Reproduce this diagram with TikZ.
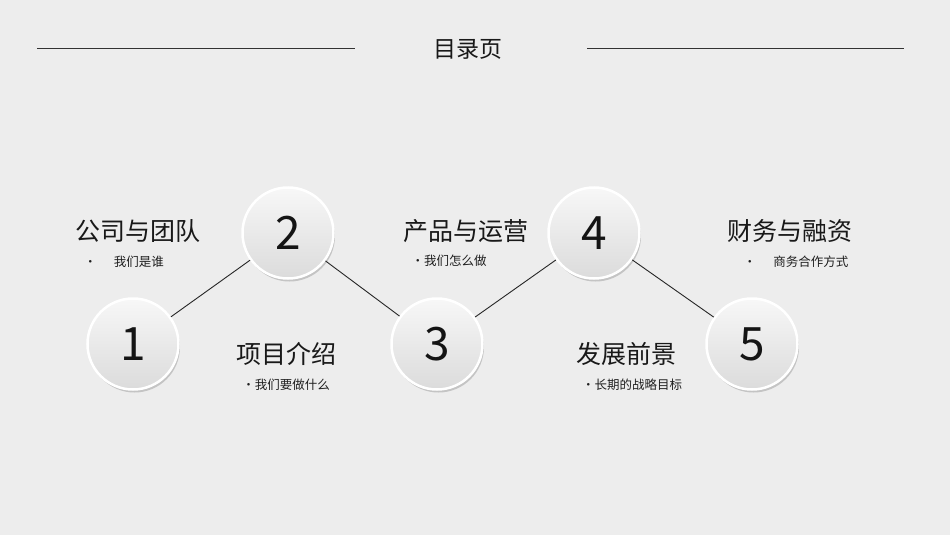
\documentclass[tikz,border=0pt]{standalone}
\usepackage{fontspec}
\setmainfont{Noto Sans CJK SC}
\usetikzlibrary{shadows,calc}
\begin{document}
\begin{tikzpicture}[x=1pt,y=-1pt,
  num/.style={circle,minimum size=91pt,inner sep=0pt,draw=white,line width=2.5pt,
    top color=white!97!black,bottom color=white!86!black,
    drop shadow={shadow xshift=1.5pt,shadow yshift=-3pt,opacity=0.3,fill=black!60},
    font=\fontsize{46}{50}\selectfont,text=black!92},
  head/.style={font=\fontsize{25}{28}\selectfont,text=black!90,inner sep=0pt},
  sub/.style={font=\fontsize{12.5}{14}\selectfont,text=black!88,inner sep=0pt},
  conn/.style={draw=black!85,line width=0.9pt},
  rule/.style={draw=black!80,line width=0.9pt}]
\fill[white!93!black] (0,0) rectangle (950,535);
\useasboundingbox (0,0) rectangle (950,535);
\coordinate (l1) at (37,48); \coordinate (l2) at (355,48);
\coordinate (r1) at (587,48); \coordinate (r2) at (904,48);
\draw[rule] (l1) -- (l2);
\draw[rule] (r1) -- (r2);
\node[font=\fontsize{23}{26}\selectfont,text=black!90] (title) at (468,49) {目录页};
\node[num] (c1) at (133,344) {1};
\node[num] (c2) at (288,233) {2};
\node[num] (c3) at (437,344) {3};
\node[num] (c4) at (594,233) {4};
\node[num] (c5) at (752,344) {5};
\draw[conn] (c1) -- (c2);
\draw[conn] (c2) -- (c3);
\draw[conn] (c3) -- (c4);
\draw[conn] (c4) -- (c5);
\node[head] (h1) at (138,231) {公司与团队};
\node[sub] (s1) at (124,262) {•\hspace{1.4em}我们是谁};
\node[head] (h2) at (286,354) {项目介绍};
\node[sub] (s2) at (286,385) {•我们要做什么};
\node[head] (h3) at (466,231) {产品与运营};
\node[sub] (s3) at (449,261) {•我们怎么做};
\node[head] (h4) at (626,354) {发展前景};
\node[sub] (s4) at (632,385) {•长期的战略目标};
\node[head] (h5) at (790,231) {财务与融资};
\node[sub] (s5) at (796,262) {•\hspace{1.4em}商务合作方式};
\end{tikzpicture}
\end{document}
